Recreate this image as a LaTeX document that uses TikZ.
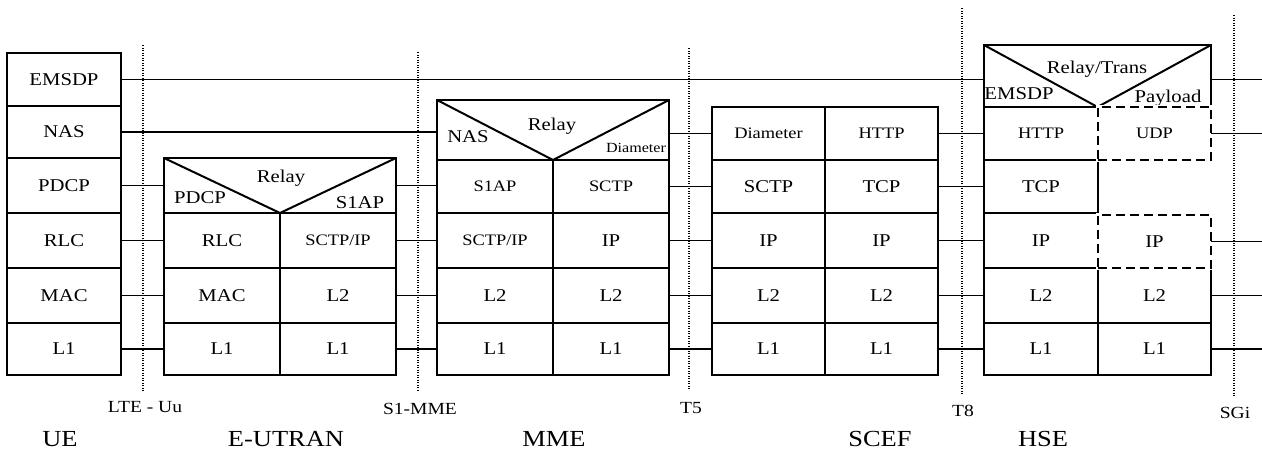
\documentclass[tikz,border=0pt]{standalone}
\usepackage{fontspec}
\setmainfont{Liberation Serif}[FakeStretch=1.15]
\begin{document}
\begin{tikzpicture}[x=1pt, y=-1pt,
    cell/.style={draw, line width=2pt, inner sep=0pt, outer sep=0pt,
      minimum width=116pt, minimum height=55pt, font=\fontsize{18}{18}\selectfont},
    small/.style={font=\fontsize{16}{16}\selectfont},
    opt/.style={cell, line width=2.8pt, dash pattern=on 9pt off 5pt,
      preaction={draw=white, solid, line width=3.4pt}},
    link/.style={line width=1.7pt},
    refline/.style={line width=2pt, dash pattern=on 1.4pt off 1.1pt},
    word/.style={anchor=base, inner sep=0pt, font=\fontsize{18}{18}\selectfont},
    iface/.style={anchor=base, inner sep=0pt, font=\fontsize{17}{17}\selectfont},
    entity/.style={anchor=base, inner sep=0pt, font=\fontsize{23}{23}\selectfont}
  ]
  \useasboundingbox (0,0) rectangle (1262,453);

  % UE
  \node[cell, minimum width=114pt, minimum height=53pt] (ue-emsdp) at (64,79.5) {EMSDP};
  \node[cell, minimum width=114pt, minimum height=52pt] (ue-nas) at (64,132) {NAS};
  \node[cell, minimum width=114pt] (ue-pdcp) at (64,185.5) {PDCP};
  \node[cell, minimum width=114pt] (ue-rlc) at (64,240.5) {RLC};
  \node[cell, minimum width=114pt] (ue-mac) at (64,295.5) {MAC};
  \node[cell, minimum width=114pt, minimum height=52pt] (ue-l1) at (64,349) {L1};

  % E-UTRAN
  \node[cell, minimum width=232pt] (eut-relay) at (280,185.5) {};
  \draw[line width=2pt] (eut-relay.north west) -- (eut-relay.south) -- (eut-relay.north east);
  \node[word] (eut-relay-txt) at (281,182) {Relay};
  \node[word] (eut-pdcp) at (200,203) {PDCP};
  \node[word] (eut-s1ap) at (360,208) {S1AP};
  \node[cell] (eut-rlc) at (222,240.5) {RLC};
  \node[cell, small] (eut-sctp) at (338,240.5) {SCTP/IP};
  \node[cell] (eut-mac) at (222,295.5) {MAC};
  \node[cell] (eut-l2) at (338,295.5) {L2};
  \node[cell, minimum height=52pt] (eut-l1a) at (222,349) {L1};
  \node[cell, minimum height=52pt] (eut-l1b) at (338,349) {L1};

  % MME
  \node[cell, minimum width=232pt, minimum height=60pt] (mme-relay) at (553,130) {};
  \draw[line width=2pt] (mme-relay.north west) -- (mme-relay.south) -- (mme-relay.north east);
  \node[word] (mme-nas) at (468,142) {NAS};
  \node[word] (mme-relay-txt) at (552,130) {Relay};
  \node[word, font=\fontsize{14}{14}\selectfont] (mme-dia) at (636,152) {Diameter};
  \node[cell, small, minimum height=53pt] (mme-s1ap) at (495,186.5) {S1AP};
  \node[cell, small, minimum height=53pt] (mme-sctp) at (611,186.5) {SCTP};
  \node[cell, small] (mme-sctpip) at (495,240.5) {SCTP/IP};
  \node[cell] (mme-ip) at (611,240.5) {IP};
  \node[cell] (mme-l2a) at (495,295.5) {L2};
  \node[cell] (mme-l2b) at (611,295.5) {L2};
  \node[cell, minimum height=52pt] (mme-l1a) at (495,349) {L1};
  \node[cell, minimum height=52pt] (mme-l1b) at (611,349) {L1};

  % SCEF
  \node[cell, small, minimum width=113pt, minimum height=53pt] (scef-dia) at (768.5,133.5) {Diameter};
  \node[cell, small, minimum width=113pt, minimum height=53pt] (scef-http) at (881.5,133.5) {HTTP};
  \node[cell, minimum width=113pt, minimum height=53pt] (scef-sctp) at (768.5,186.5) {SCTP};
  \node[cell, minimum width=113pt, minimum height=53pt] (scef-tcp) at (881.5,186.5) {TCP};
  \node[cell, minimum width=113pt] (scef-ipa) at (768.5,240.5) {IP};
  \node[cell, minimum width=113pt] (scef-ipb) at (881.5,240.5) {IP};
  \node[cell, minimum width=113pt] (scef-l2a) at (768.5,295.5) {L2};
  \node[cell, minimum width=113pt] (scef-l2b) at (881.5,295.5) {L2};
  \node[cell, minimum width=113pt, minimum height=52pt] (scef-l1a) at (768.5,349) {L1};
  \node[cell, minimum width=113pt, minimum height=52pt] (scef-l1b) at (881.5,349) {L1};

  % HSE
  \node[cell, minimum width=227pt, minimum height=62pt] (hse-relay) at (1097.5,76) {};
  \draw[line width=2pt] (hse-relay.north west) -- (hse-relay.south) -- (hse-relay.north east);
  \node[word] (hse-relay-txt) at (1097,73) {Relay/Trans};
  \node[word] (hse-emsdp) at (1019,99) {EMSDP};
  \node[word] (hse-payload) at (1168,102) {Payload};
  \node[cell, small, minimum width=114pt, minimum height=53pt] (hse-http) at (1041,133.5) {HTTP};
  \node[cell, minimum width=114pt, minimum height=53pt] (hse-tcp) at (1041,186.5) {TCP};
  \node[cell, minimum width=114pt] (hse-ipa) at (1041,240.5) {IP};
  \node[cell, minimum width=114pt] (hse-l2a) at (1041,295.5) {L2};
  \node[cell, minimum width=113pt] (hse-l2b) at (1154.5,295.5) {L2};
  \node[cell, minimum width=114pt, minimum height=52pt] (hse-l1a) at (1041,349) {L1};
  \node[cell, minimum width=113pt, minimum height=52pt] (hse-l1b) at (1154.5,349) {L1};
  \node[opt, small, minimum width=113pt, minimum height=53pt] (hse-udp) at (1154.5,133.5) {UDP};
  \node[opt, minimum width=113pt, minimum height=53pt] (hse-ipb) at (1154.5,241.5) {IP};

  % peer links
  \coordinate (east-edge) at (1262,0);
  \draw[link] (ue-emsdp.east) -- (ue-emsdp.east -| hse-relay.west);
  \draw[link] (ue-nas.east) -- (ue-nas.east -| mme-relay.west);
  \draw[link] (ue-pdcp.east) -- (eut-relay.west);
  \draw[link] (ue-rlc.east) -- (eut-rlc.west);
  \draw[link] (ue-mac.east) -- (eut-mac.west);
  \draw[link] (ue-l1.east) -- (eut-l1a.west);
  \draw[link] (eut-relay.east) -- (eut-relay.east -| mme-s1ap.west);
  \draw[link] (eut-sctp.east) -- (mme-sctpip.west);
  \draw[link] (eut-l2.east) -- (mme-l2a.west);
  \draw[link] (eut-l1b.east) -- (mme-l1a.west);
  \draw[link] (mme-relay.east |- scef-dia.west) -- (scef-dia.west);
  \draw[link] (mme-sctp.east) -- (scef-sctp.west);
  \draw[link] (mme-ip.east) -- (scef-ipa.west);
  \draw[link] (mme-l2b.east) -- (scef-l2a.west);
  \draw[link] (mme-l1b.east) -- (scef-l1a.west);
  \draw[link] (scef-http.east) -- (hse-http.west);
  \draw[link] (scef-tcp.east) -- (hse-tcp.west);
  \draw[link] (scef-ipb.east) -- (hse-ipa.west);
  \draw[link] (scef-l2b.east) -- (hse-l2a.west);
  \draw[link] (scef-l1b.east) -- (hse-l1a.west);
  \draw[link] (hse-relay.east |- ue-emsdp.east) -- (east-edge |- ue-emsdp.east);
  \draw[link] (hse-udp.east) -- (hse-udp.east -| east-edge);
  \draw[link] (hse-ipb.east) -- (hse-ipb.east -| east-edge);
  \draw[link] (hse-l2b.east) -- (hse-l2b.east -| east-edge);
  \draw[link] (hse-l1b.east) -- (hse-l1b.east -| east-edge);

  % reference points
  \coordinate (uu-top) at (143,45);   \coordinate (uu-bot) at (143,392);
  \coordinate (s1-top) at (418,52);   \coordinate (s1-bot) at (418,390);
  \coordinate (t5-top) at (689,48);   \coordinate (t5-bot) at (689,390);
  \coordinate (t8-top) at (962,8);    \coordinate (t8-bot) at (962,395);
  \coordinate (sgi-top) at (1234,15); \coordinate (sgi-bot) at (1234,397);
  \draw[refline] (uu-top) -- (uu-bot);
  \draw[refline] (s1-top) -- (s1-bot);
  \draw[refline] (t5-top) -- (t5-bot);
  \draw[refline] (t8-top) -- (t8-bot);
  \draw[refline] (sgi-top) -- (sgi-bot);
  \node[iface] (uu) at (145,412) {LTE - Uu};
  \node[iface] (s1) at (420,414) {S1-MME};
  \node[iface] (t5) at (691,413) {T5};
  \node[iface] (t8) at (963,416) {T8};
  \node[iface] (sgi) at (1235,418) {SGi};

  % entities
  \node[entity] (ue) at (60,446) {UE};
  \node[entity] (eutran) at (286,446) {E-UTRAN};
  \node[entity] (mme) at (554,446) {MME};
  \node[entity] (scef) at (880,446) {SCEF};
  \node[entity] (hse) at (1043,446) {HSE};
\end{tikzpicture}
\end{document}
